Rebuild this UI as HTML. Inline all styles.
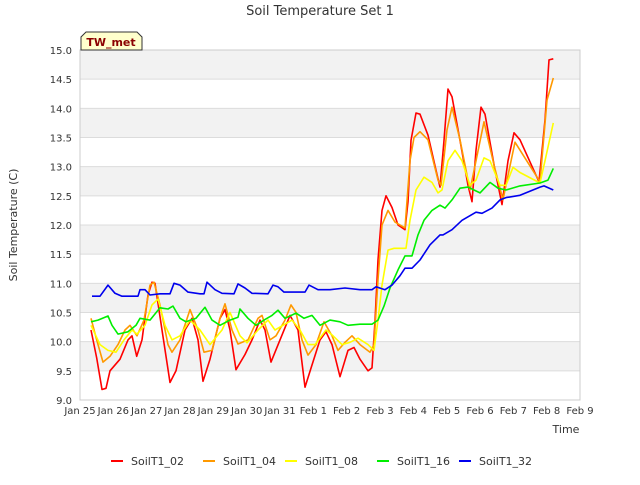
<!DOCTYPE html>
<html><head><meta charset="utf-8"><style>
body{margin:0;background:#fff;font-family:"Liberation Sans","DejaVu Sans",sans-serif;}
svg text{font-family:"DejaVu Sans","Liberation Sans",sans-serif;}
</style></head><body>
<svg id="chart" width="640" height="480" xmlns="http://www.w3.org/2000/svg">
<text x="320" y="15" text-anchor="middle" font-size="13" fill="#333">Soil Temperature Set 1</text>
<g id="bands"></g>
<g id="grid"></g>
<rect x="80" y="50" width="500" height="350" fill="none" stroke="#ccc"/>
<g id="yticks"></g>
<g id="xticks"></g>
<text transform="translate(17,225) rotate(-90)" text-anchor="middle" font-size="11" fill="#333">Soil Temperature (C)</text>
<text x="566" y="433" text-anchor="middle" font-size="11" fill="#333">Time</text>
<g id="series"></g>
<g>
<path d="M81,50 L81,37 L86,32 L137,32 L142,37 L142,50 Z" fill="#ffffcc" stroke="#333" stroke-width="1"/>
<text x="111" y="46" text-anchor="middle" font-size="11" font-weight="bold" fill="#8b0000">TW_met</text>
</g>
<g id="legend"></g>
</svg>
<script>
const yTicks=[9.0,9.5,10.0,10.5,11.0,11.5,12.0,12.5,13.0,13.5,14.0,14.5,15.0];
const xTickLabels=["Jan 25","Jan 26","Jan 27","Jan 28","Jan 29","Jan 30","Jan 31","Feb 1","Feb 2","Feb 3","Feb 4","Feb 5","Feb 6","Feb 7","Feb 8","Feb 9"];
const seriesNames=["SoilT1_02","SoilT1_04","SoilT1_08","SoilT1_16","SoilT1_32"];
const seriesColors=["#ff0000","#ff9900","#ffff00","#00ee00","#0000ee"];
const t02=[.33,.5,.66,.78,.9,1.2,1.44,1.56,1.7,1.86,2.04,2.16,2.25,2.46,2.7,2.88,3.15,3.36,3.54,3.69,3.9,4.2,4.35,4.5,4.68,4.95,5.16,5.4,5.55,5.73,6.0,6.3,6.54,6.75,6.96,7.2,7.38,7.56,7.8,8.04,8.22,8.4,8.64,8.76,8.85,8.94,9.06,9.18,9.36,9.54,9.75,9.84,9.93,10.08,10.2,10.44,10.68,10.8,10.92,11.04,11.16,11.4,11.64,11.76,11.88,12.03,12.15,12.45,12.66,12.84,13.02,13.2,13.77,13.95,14.07,14.2];
const v02=[10.2,9.72,9.18,9.2,9.5,9.7,10.03,10.1,9.75,10.03,10.8,11.02,11.0,10.2,9.3,9.5,10.2,10.4,10.03,9.32,9.7,10.4,10.55,10.2,9.52,9.78,10.03,10.37,10.2,9.65,10.03,10.45,10.2,9.22,9.6,10.03,10.17,9.95,9.4,9.85,9.9,9.7,9.5,9.55,10.35,11.4,12.25,12.5,12.3,12.0,11.92,12.4,13.45,13.92,13.9,13.54,12.94,12.65,13.45,14.33,14.2,13.45,12.68,12.4,13.28,14.02,13.9,12.94,12.35,13.1,13.58,13.46,12.74,13.8,14.83,14.85];
const t04=[.33,.5,.69,.9,1.14,1.35,1.5,1.71,1.92,2.1,2.22,2.4,2.64,2.76,3.0,3.3,3.54,3.72,3.96,4.2,4.35,4.56,4.74,5.04,5.34,5.46,5.7,5.88,6.15,6.33,6.48,6.66,6.84,7.08,7.32,7.56,7.74,7.95,8.16,8.4,8.7,8.82,8.94,9.06,9.24,9.45,9.75,9.9,10.02,10.2,10.44,10.74,10.83,11.01,11.16,11.4,11.7,11.88,12.12,12.42,12.69,12.84,13.05,13.8,14.01,14.2];
const v04=[10.4,10.03,9.65,9.75,9.95,10.2,10.28,10.1,10.37,10.97,11.02,10.63,9.95,9.82,10.03,10.55,10.2,9.82,9.85,10.4,10.65,10.2,9.96,10.03,10.4,10.45,10.03,10.1,10.37,10.63,10.5,10.03,9.77,9.95,10.34,10.1,9.85,9.99,10.1,9.95,9.82,9.95,11.06,12.0,12.25,12.05,11.95,13.1,13.5,13.6,13.46,12.77,12.68,13.63,14.02,13.46,12.6,13.1,13.77,13.03,12.43,12.85,13.42,12.74,14.14,14.52];
const t08=[.33,.6,.84,1.08,1.32,1.56,1.71,1.95,2.16,2.34,2.55,2.76,3.0,3.3,3.6,3.9,4.26,4.5,4.8,5.01,5.34,5.64,5.85,6.09,6.36,6.6,6.84,7.05,7.38,7.59,7.86,8.1,8.34,8.64,8.82,8.94,9.06,9.24,9.42,9.78,9.9,10.08,10.32,10.56,10.74,10.86,11.04,11.25,11.46,11.7,11.88,12.12,12.3,12.6,12.78,12.99,13.2,13.8,13.95,14.2];
const v08=[10.28,9.95,9.85,9.82,10.03,10.2,10.13,10.28,10.63,10.73,10.28,10.03,10.1,10.37,10.2,9.95,10.2,10.5,10.1,9.98,10.2,10.37,10.2,10.28,10.37,10.2,9.95,9.95,10.2,10.1,9.95,9.99,10.06,9.95,9.85,10.37,10.97,11.57,11.6,11.6,12.08,12.6,12.82,12.73,12.55,12.6,13.1,13.28,13.1,12.68,12.77,13.15,13.1,12.68,12.68,12.99,12.9,12.72,13.1,13.75];
const t16=[.33,.54,.84,.96,1.14,1.44,1.68,1.8,2.1,2.4,2.64,2.79,3.0,3.18,3.48,3.75,3.96,4.2,4.5,4.74,4.8,5.04,5.28,5.52,5.76,5.94,6.15,6.48,6.72,6.96,7.2,7.5,7.8,8.04,8.4,8.76,8.94,9.12,9.3,9.54,9.75,9.96,10.14,10.32,10.56,10.8,10.95,11.16,11.4,11.64,12.0,12.3,12.54,12.78,13.2,13.8,14.04,14.2];
const v16=[10.34,10.37,10.44,10.28,10.13,10.17,10.28,10.4,10.37,10.58,10.56,10.61,10.4,10.34,10.4,10.59,10.37,10.28,10.37,10.42,10.56,10.4,10.28,10.37,10.45,10.54,10.4,10.49,10.4,10.45,10.28,10.37,10.34,10.28,10.3,10.3,10.37,10.61,10.92,11.23,11.47,11.47,11.83,12.08,12.25,12.34,12.29,12.43,12.63,12.65,12.55,12.73,12.63,12.6,12.67,12.72,12.77,12.97];
const t32=[.36,.6,.84,1.05,1.26,1.74,1.8,1.95,2.1,2.4,2.7,2.82,3.0,3.24,3.6,3.72,3.81,4.05,4.26,4.62,4.74,4.95,5.16,5.64,5.79,5.94,6.12,6.75,6.87,7.14,7.5,7.95,8.4,8.76,8.88,9.15,9.36,9.6,9.75,9.96,10.2,10.5,10.8,10.89,11.16,11.46,11.88,12.06,12.36,12.6,12.78,13.2,13.8,13.92,14.2];
const v32=[10.78,10.78,10.97,10.83,10.78,10.78,10.89,10.89,10.8,10.82,10.82,11.0,10.97,10.85,10.82,10.82,11.02,10.89,10.83,10.82,10.99,10.92,10.83,10.82,10.97,10.94,10.85,10.85,10.97,10.89,10.89,10.92,10.89,10.89,10.94,10.89,10.97,11.13,11.26,11.26,11.4,11.66,11.83,11.83,11.92,12.08,12.22,12.2,12.29,12.43,12.47,12.51,12.65,12.67,12.6];

const NS="http://www.w3.org/2000/svg";
const X0=80,X1=580,Y0=50,Y1=400,YMIN=9,YMAX=15,DAYS=15;
function xs(t){return X0+(X1-X0)*t/DAYS;}
function ys(v){return Y1-(Y1-Y0)*(v-YMIN)/(YMAX-YMIN);}
function mk(tag,attrs,parent){const e=document.createElementNS(NS,tag);for(const k in attrs)e.setAttribute(k,attrs[k]);parent.appendChild(e);return e;}

const bands=document.getElementById('bands'),grid=document.getElementById('grid'),yt=document.getElementById('yticks'),xt=document.getElementById('xticks');
for(let i=0;i<yTicks.length-1;i++){
  if((yTicks.length-2-i)%2===0){
    const r=mk('rect',{x:X0,y:ys(yTicks[i+1]),width:X1-X0,height:ys(yTicks[i])-ys(yTicks[i+1]),fill:'#f2f2f2'},bands);
    
    
  }
}
yTicks.forEach(v=>{
  const l=mk('line',{x1:X0,x2:X1,y1:ys(v),y2:ys(v),stroke:'#dcdcdc'},grid);
  
  
  const t=mk('text',{x:X0-8,y:ys(v)+4,'text-anchor':'end','font-size':'10',fill:'#333'},yt);
  t.textContent=v.toFixed(1);
  
  
});
xTickLabels.forEach((s,i)=>{
  const t=mk('text',{x:xs(i),y:414,'text-anchor':'middle','font-size':'10',fill:'#333'},xt);
  t.textContent=s;
  
  
});
const sg=document.getElementById('series');
const allT=[t02,t04,t08,t16,t32],allV=[v02,v04,v08,v16,v32];
allT.forEach((T,k)=>{
  const pts=T.map((t,i)=>xs(t).toFixed(1)+','+ys(allV[k][i]).toFixed(1)).join(' ');
  const p=mk('polyline',{points:pts,fill:'none',stroke:seriesColors[k],'stroke-width':'1.6','stroke-linejoin':'round'},sg);
  
  
});
const lg=document.getElementById('legend');
const lx=[111,203,285,377,459];
seriesNames.forEach((n,k)=>{
  const g=mk('g',{},lg);
  
  
  mk('line',{x1:lx[k],x2:lx[k]+12,y1:461,y2:461,stroke:seriesColors[k],'stroke-width':'2'},g);
  const t=mk('text',{x:lx[k]+20,y:465,'font-size':'11',fill:'#333'},g);
  t.textContent=n;
});
</script>
</body></html>
